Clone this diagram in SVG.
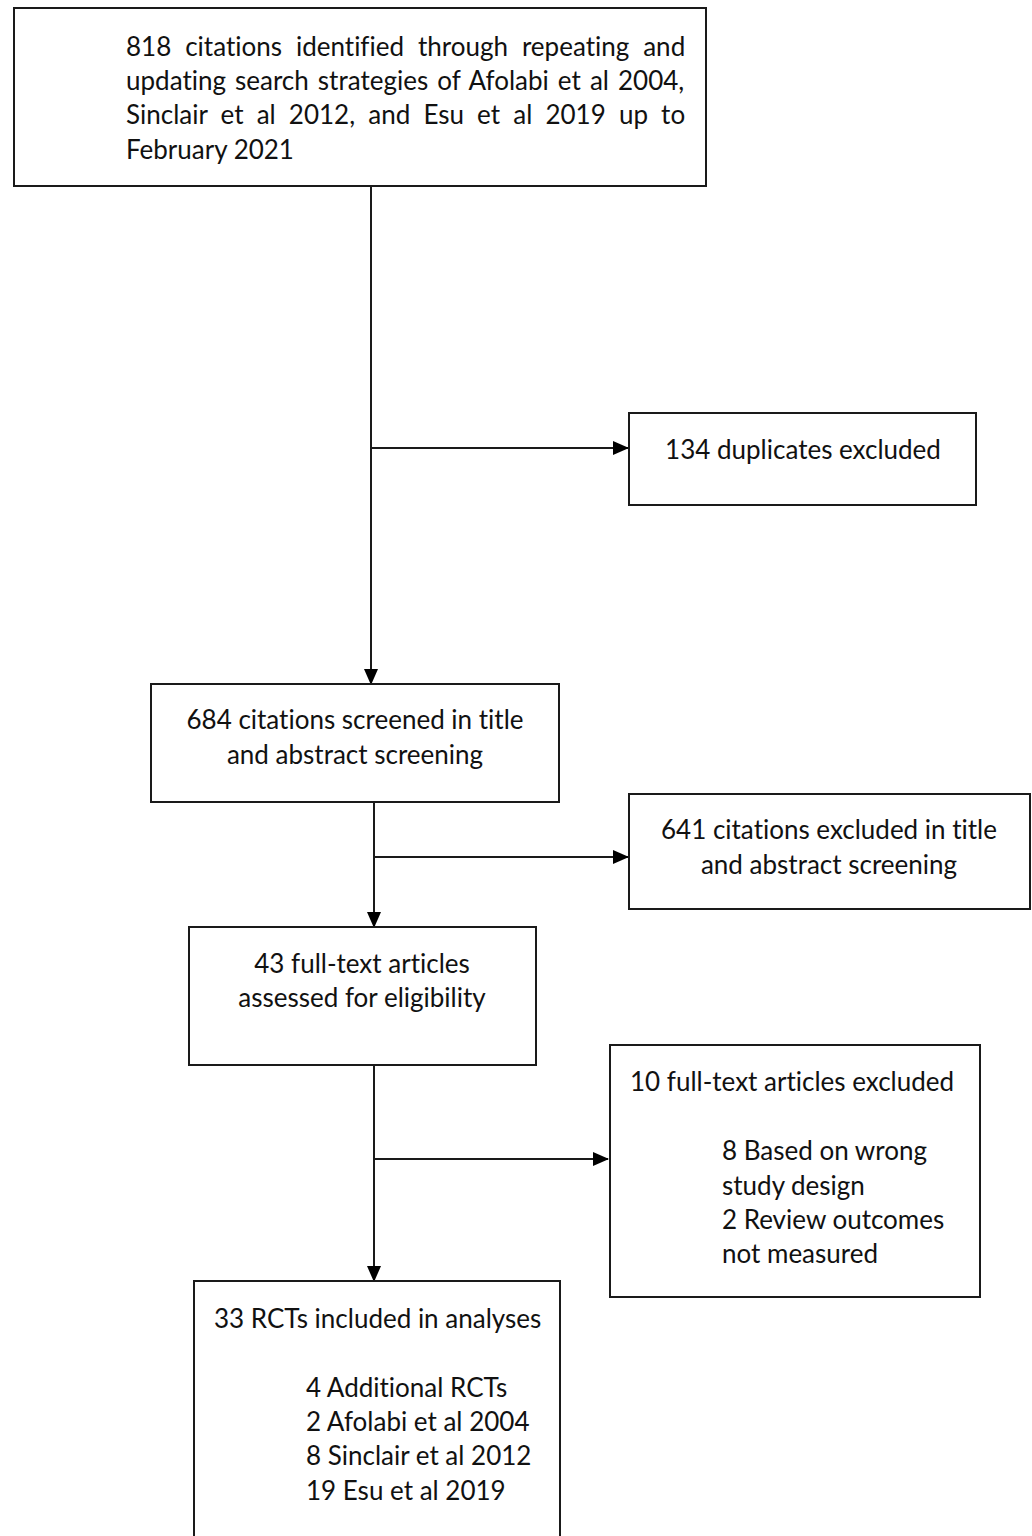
<svg xmlns="http://www.w3.org/2000/svg" width="1032" height="1536" viewBox="0 0 1032 1536">
<style>
.box{fill:#fff;stroke:#1a1a1a;stroke-width:2}
.t{font-family:Lato,"Open Sans","Liberation Sans",sans-serif;font-size:26px;fill:#111;font-variant-ligatures:none;font-feature-settings:"liga" 0}
.c{text-anchor:middle}
.ln{stroke:#1a1a1a;stroke-width:2;fill:none}
</style>
<defs>
<marker id="ah" markerWidth="16" markerHeight="14" refX="15" refY="7" orient="auto" markerUnits="userSpaceOnUse">
<path d="M0,0 L16,7 L0,14 Z" fill="#000"/>
</marker>
</defs>
<rect width="1032" height="1536" fill="#fff"/>
<g id="connectors">
<line class="ln" x1="371" y1="186" x2="371" y2="684" marker-end="url(#ah)"/>
<line class="ln" x1="371" y1="448" x2="628" y2="448" marker-end="url(#ah)"/>
<line class="ln" x1="374" y1="802" x2="374" y2="927" marker-end="url(#ah)"/>
<line class="ln" x1="374" y1="857" x2="628" y2="857" marker-end="url(#ah)"/>
<line class="ln" x1="374" y1="1065" x2="374" y2="1281" marker-end="url(#ah)"/>
<line class="ln" x1="374" y1="1159" x2="608" y2="1159" marker-end="url(#ah)"/>
</g>
<g id="n1">
<rect class="box" x="14" y="8" width="692" height="178"/>
<text class="t" x="126" y="56" word-spacing="7.3">818 citations identified through repeating and</text>
<text class="t" x="126" y="90" word-spacing="2.4">updating search strategies of Afolabi et al 2004,</text>
<text class="t" x="126" y="124" word-spacing="6.5">Sinclair et al 2012, and Esu et al 2019 up to</text>
<text class="t" x="126" y="159">February 2021</text>
</g>
<g id="n2">
<rect class="box" x="629" y="413" width="347" height="92"/>
<text class="t c" x="803" y="459">134 duplicates excluded</text>
</g>
<g id="n3">
<rect class="box" x="151" y="684" width="408" height="118"/>
<text class="t c" x="355" y="729">684 citations screened in title</text>
<text class="t c" x="355" y="764">and abstract screening</text>
</g>
<g id="n4">
<rect class="box" x="629" y="794" width="401" height="115"/>
<text class="t c" x="829" y="839">641 citations excluded in title</text>
<text class="t c" x="829" y="874">and abstract screening</text>
</g>
<g id="n5">
<rect class="box" x="189" y="927" width="347" height="138"/>
<text class="t c" x="362" y="973">43 full-text articles</text>
<text class="t c" x="362" y="1007">assessed for eligibility</text>
</g>
<g id="n6">
<rect class="box" x="610" y="1045" width="370" height="252"/>
<text class="t" x="630" y="1091">10 full-text articles excluded</text>
<text class="t" x="722" y="1160">8 Based on wrong</text>
<text class="t" x="722" y="1195">study design</text>
<text class="t" x="722" y="1229">2 Review outcomes</text>
<text class="t" x="722" y="1263">not measured</text>
</g>
<g id="n7">
<rect class="box" x="194" y="1281" width="366" height="270"/>
<text class="t" x="214" y="1328">33 RCTs included in analyses</text>
<text class="t" x="306" y="1397">4 Additional RCTs</text>
<text class="t" x="306" y="1431">2 Afolabi et al 2004</text>
<text class="t" x="306" y="1465">8 Sinclair et al 2012</text>
<text class="t" x="306" y="1500">19 Esu et al 2019</text>
</g>
</svg>
